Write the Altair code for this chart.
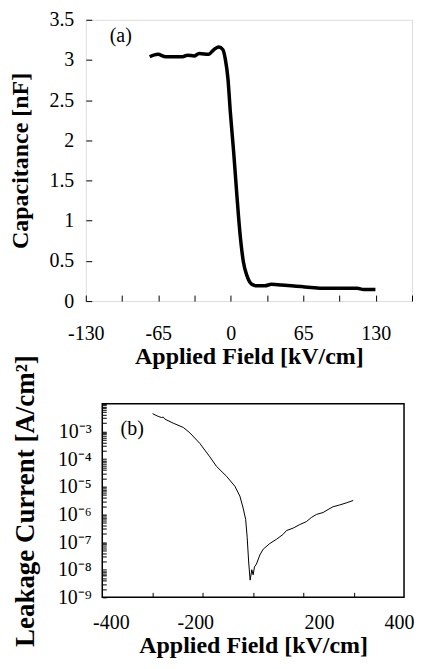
import altair as alt
import pandas as pd

# ---------------- data: panel (a) capacitance ----------------
cap_field = [-72.7, -65.4, -58.3, -50.6, -43.2, -38.8, -32.9, -28.4, -19.6, -16.6,
             -10.7, -7.2, -4.9, -2.5, -0.4, 2.6, 5.5, 8.4, 11.4, 14.4,
             18.8, 23.2, 30.6, 36.5, 45.4, 54.2, 63.1, 71.9, 83.7, 98.5,
             113.3, 119.1, 129.7]
cap_nf = [3.04, 3.07, 3.04, 3.04, 3.04, 3.06, 3.05, 3.08, 3.07, 3.11,
          3.16, 3.13, 3.01, 2.76, 2.35, 1.85, 1.31, 0.82, 0.48, 0.32,
          0.21, 0.19, 0.19, 0.21, 0.20, 0.19, 0.18, 0.17, 0.16, 0.16,
          0.16, 0.145, 0.145]

cap_x_ticks = [-130, -97.5, -65, -32.5, 0, 32.5, 65, 97.5, 130, 162.5]
cap_x_labels = [-130, -65, 0, 65, 130]
cap_y_ticks = [0, 0.5, 1, 1.5, 2, 2.5, 3, 3.5]

# ---------------- data: panel (b) leakage current ----------------
leak_field = [-200, -188.7, -182, -178.8, -175.5, -159, -139, -125.8, -106, -86,
              -73, -53, -36.4, -26.4, -19.9, -14.9, -11.9, -8.9, -6, -2.6,
              0, 2.6, 6.6, 13.3, 19.9, 33.2, 46.4, 59.6, 66.2, 79.5,
              92.8, 106, 116, 126, 139, 149, 159, 172, 185, 199]
leak_current = [4.4e-3, 3.5e-3, 3.2e-3, 3.3e-3, 2.8e-3, 2.0e-3, 1.4e-3, 8.9e-4, 3.7e-4, 1.2e-4,
                5.5e-5, 2.4e-5, 1.05e-5, 4.6e-6, 1.7e-6, 6.6e-7, 1.5e-7, 1.9e-8, 4.2e-9, 1.0e-8,
                6.5e-9, 1.26e-8, 1.6e-8, 3.4e-8, 5.5e-8, 8.9e-8, 1.26e-7, 1.9e-7, 2.6e-7, 3.2e-7,
                4.3e-7, 5.5e-7, 7.8e-7, 1.0e-6, 1.17e-6, 1.5e-6, 1.9e-6, 2.2e-6, 2.6e-6, 3.2e-6]

leak_x_domain = [-300, 300]
leak_x_ticks = [-200, -100, 0, 100, 200]
# the printed tick labels of panel (b) sit where the original figure put them
leak_x_label_at = [-283, -115, 131, 290]
leak_x_label_text = ["-400", "-200", "200", "400"]
leak_y_domain = [1e-9, 1e-2]
leak_decades = [-9, -8, -7, -6, -5, -4, -3, -2]
leak_labelled_decades = [-9, -8, -7, -6, -5, -4, -3]

panel_labels = ["(a)", "(b)"]

# ---------------- helpers ----------------
SERIF = "Liberation Serif"
SUP = {"0": "\u2070", "1": "\u00b9", "2": "\u00b2", "3": "\u00b3", "4": "\u2074",
       "5": "\u2075", "6": "\u2076", "7": "\u2077", "8": "\u2078", "9": "\u2079",
       "-": "\u207b"}


def sup(n):
    return "".join(SUP[c] for c in str(n))


cap_x_expr = " : ".join(
    f"abs(datum.value - ({v})) < 0.01 ? '{v}'" for v in cap_x_labels) + " : ''"
cap_y_expr = "toString(datum.value)"

leak_x_expr = " : ".join(
    f"datum.value == {v} ? '{t}'" for v, t in zip(leak_x_label_at, leak_x_label_text)) + " : ''"

leak_y_values = []
for d in leak_decades:
    for m in range(1, 10):
        if d == leak_decades[-1] and m > 1:
            break
        leak_y_values.append(float(f"{m}e{d}"))
leak_y_expr = " : ".join(
    f"abs(log(datum.value)/LN10 - ({d})) < 0.001 ? '10{sup(d)}'" for d in leak_labelled_decades) + " : ''"

df_cap = pd.DataFrame({"field": cap_field, "cap": cap_nf})
df_leak = pd.DataFrame({"field": leak_field, "cur": leak_current})
df_one = pd.DataFrame({"k": [0]})

common_axis = dict(
    grid=False, domain=False,
    labelFont=SERIF, labelFontSize=20, labelColor="black",
    titleFont=SERIF, titleFontWeight="bold", titleColor="black",
    tickColor="black", tickWidth=1,
    labelFlush=False, labelOverlap=False,
)

# ---------------- panel (a) ----------------
cap_line = alt.Chart(df_cap).mark_line(
    color="black", strokeWidth=3.5, interpolate="monotone"
).encode(
    x=alt.X("field:Q",
            scale=alt.Scale(domain=[cap_x_ticks[0], cap_x_ticks[-1]], nice=False, zero=False),
            axis=alt.Axis(values=cap_x_ticks, labelExpr=cap_x_expr,
                          title="Applied Field [kV/cm]", titleFontSize=24,
                          offset=-6, tickSize=6, labelPadding=23, titlePadding=1,
                          **common_axis)),
    y=alt.Y("cap:Q",
            scale=alt.Scale(domain=[0, 3.5], nice=False),
            axis=alt.Axis(values=cap_y_ticks, labelExpr=cap_y_expr,
                          title="Capacitance [nF]", titleFontSize=24,
                          offset=-6, tickSize=6, labelPadding=12, titlePadding=16,
                          **common_axis)),
)
cap_text = alt.Chart(pd.DataFrame({"t": [panel_labels[0]]})).mark_text(
    font=SERIF, fontSize=20, color="black", align="center", baseline="middle"
).encode(text="t:N", x=alt.value(35), y=alt.value(16))

top = alt.layer(cap_line, cap_text).properties(width=327, height=282)

# ---------------- panel (b) ----------------
# the panel box of (b) starts a little to the right of box (a), as in the figure
B_LEFT = 16.5
B_W = 302.5
B_H = 194
x_scale_b = alt.Scale(domain=leak_x_domain, nice=False, zero=False, range=[B_LEFT, B_LEFT + B_W])
y_scale_b = alt.Scale(type="log", domain=leak_y_domain, nice=False)

y_axis_b = alt.Axis(values=leak_y_values, labelExpr=leak_y_expr,
                    title="Leakage Current [A/cm\u00b2]", titleFontSize=27,
                    offset=-(B_LEFT + 4), tickSize=4, labelPadding=11, titlePadding=18,
                    **common_axis)

leak_line = alt.Chart(df_leak).mark_line(
    color="black", strokeWidth=1
).encode(
    x=alt.X("field:Q", scale=x_scale_b,
            axis=alt.Axis(values=leak_x_ticks, labels=False, title=None, orient="bottom",
                          offset=-5, tickSize=5, grid=False, domain=False,
                          tickColor="black", tickWidth=1)),
    y=alt.Y("cur:Q", scale=y_scale_b, axis=y_axis_b),
)

leak_frame = alt.Chart(df_one).mark_rect(
    filled=False, stroke="black", strokeWidth=1.5
).encode(
    x=alt.XDatum(leak_x_domain[0], type="quantitative", scale=x_scale_b,
                 axis=alt.Axis(values=leak_x_label_at, labelExpr=leak_x_expr,
                               title="Applied Field [kV/cm]", titleFontSize=24,
                               orient="bottom", ticks=False, tickSize=0,
                               labelPadding=15, titlePadding=1, **common_axis)),
    x2=alt.X2Datum(leak_x_domain[1]),
    y=alt.YDatum(leak_y_domain[0], type="quantitative", scale=y_scale_b, axis=y_axis_b),
    y2=alt.Y2Datum(leak_y_domain[1]),
)

leak_text = alt.Chart(pd.DataFrame({"t": [panel_labels[1]]})).mark_text(
    font=SERIF, fontSize=20, color="black", align="center", baseline="middle"
).encode(text="t:N", x=alt.value(B_LEFT + 30), y=alt.value(25))

bottom = alt.layer(leak_line, leak_frame, leak_text).resolve_axis(
    x="independent"
).properties(
    width=B_LEFT + B_W, height=B_H,
    view=alt.ViewBackground(stroke="transparent")
)

chart = alt.vconcat(top, bottom, spacing=103, bounds="flush").properties(
    padding={"left": 0, "top": 0, "right": 0, "bottom": 0}
).configure_view(
    stroke="black", strokeWidth=1.5
).configure(background="white")

chart.save("out.html", embed_options={"renderer": "svg", "actions": False})
